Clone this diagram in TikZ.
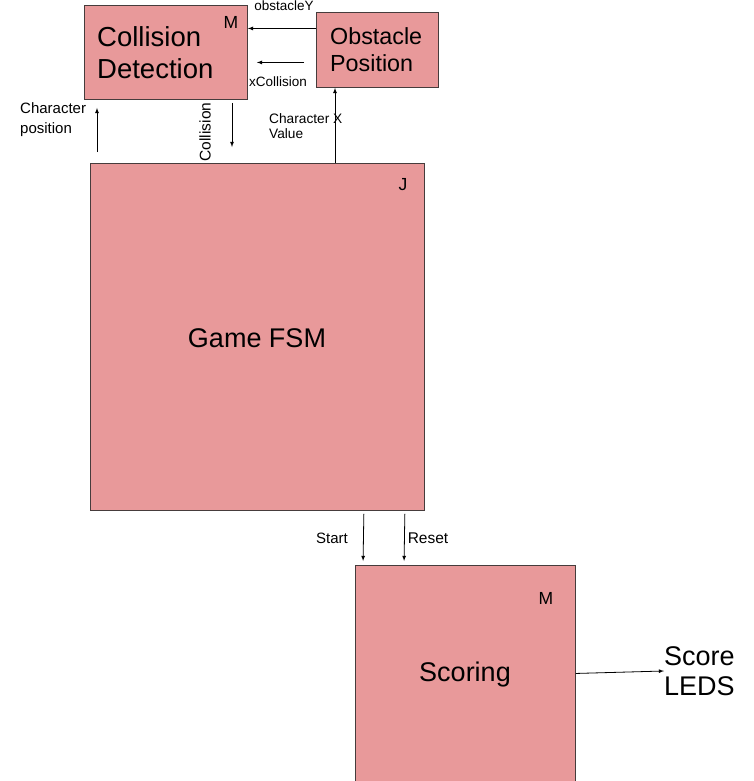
\documentclass[tikz,border=0pt]{standalone}
\usepackage{fontspec}
\setmainfont{Liberation Sans}
\usetikzlibrary{calc}
\definecolor{boxfill}{RGB}{232,153,154}
\definecolor{boxline}{RGB}{70,60,60}
\tikzset{
  blk/.style={draw=boxline, line width=0.9pt, fill=boxfill, anchor=north west, inner sep=0pt},
  big/.style={font=\fontsize{27}{32}\selectfont, inner sep=0pt, align=left},
  small/.style={font=\fontsize{14}{18}\selectfont, inner sep=0pt, align=left},
  tag/.style={font=\fontsize{17.5}{18}\selectfont, inner sep=0pt},
  arr/.style={-latex, line width=0.8pt, black}
}
\begin{document}
\begin{tikzpicture}[x=1pt,y=-1pt]
\useasboundingbox (0,0) rectangle (754,781);
% boxes
\node[blk, minimum width=163pt, minimum height=94pt] (cd) at (84,5) {};
\node[blk, minimum width=122pt, minimum height=75pt] (op) at (316,12) {};
\node[blk, minimum width=334pt, minimum height=347pt] (fsm) at (90,163) {};
\node[blk, minimum width=220pt, minimum height=216pt] (sc) at (355,565) {};
% box texts
\node[big, font=\fontsize{27.5}{32}\selectfont, anchor=west] (cdt) at (97,53) {Collision\\Detection};
\node[tag, anchor=center] (cdm) at (231,22) {M};
\node[big, font=\fontsize{23.3}{27}\selectfont, anchor=west] (opt) at (330,50) {Obstacle\\Position};
\node[big] (fsmt) at (257,338) {Game FSM};
\node[tag] (fsmj) at (403,185) {J};
\node[big] (sct) at (465,675) {Scoring};
\node[tag] (scm) at (546,598) {M};
\node[big, anchor=west, font=\fontsize{27}{30}\selectfont] (leds) at (664,671) {Score\\LEDS};
% labels
\node[small, font=\fontsize{13.5}{16}\selectfont] (l1) at (284,6) {obstacleY};
\node[small, font=\fontsize{13.5}{16}\selectfont] (l2) at (278,82) {xCollision};
\node[small, font=\fontsize{15}{20}\selectfont, anchor=west] (l3) at (20,120) {Character\\position};
\node[small, font=\fontsize{15.5}{18}\selectfont, rotate=90] (l4) at (205,132) {Collision};
\node[small, font=\fontsize{13.7}{15}\selectfont, anchor=west] (l5) at (269,126) {Character X\\Value};
\node[small, font=\fontsize{15}{18}\selectfont] (l6) at (332,538) {Start};
\node[small, font=\fontsize{15.5}{18}\selectfont] (l7) at (428,538) {Reset};
% connectors
\draw[arr] ([yshift=21.5pt]op.west) -- ([yshift=24pt]cd.east);
\draw[arr, shorten <=12pt, shorten >=9pt] ([yshift=-12.5pt]op.west) -- ([yshift=-10pt]cd.east);
\draw[arr, shorten <=11pt, shorten >=8pt] ([xshift=7pt]fsm.north west) -- ([xshift=13pt]cd.south west);
\draw[arr, shorten <=3pt, shorten >=16pt] ([xshift=148pt]cd.south west) -- ([xshift=142pt]fsm.north west);
\draw[arr] ([xshift=245pt]fsm.north west) -- ([xshift=19pt]op.south west);
\draw[arr, shorten <=3pt, shorten >=4pt] ([xshift=-61pt]fsm.south east) -- ([xshift=8pt]sc.north west);
\draw[arr, shorten <=3pt, shorten >=4pt] ([xshift=-20pt]fsm.south east) -- ([xshift=49pt]sc.north west);
\draw[arr] (sc.east) -- (leds.west);
\end{tikzpicture}
\end{document}
